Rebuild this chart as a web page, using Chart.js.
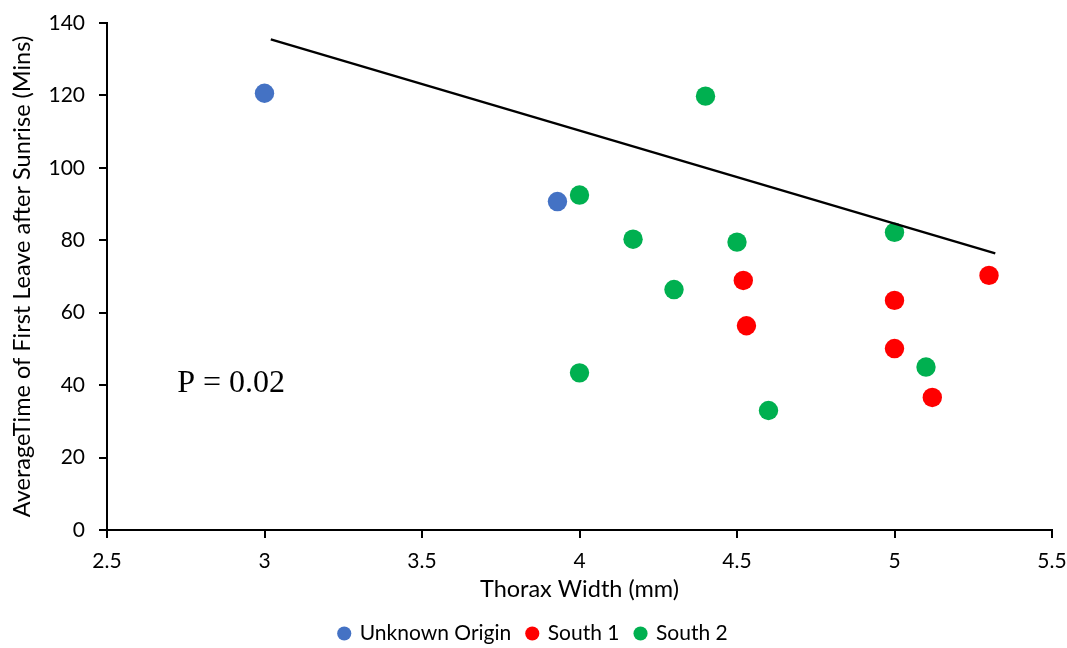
<!DOCTYPE html>
<html>
<head>
<meta charset="utf-8">
<script src="https://cdn.jsdelivr.net/npm/chart.js@4"></script>
<style>
  html, body { margin: 0; padding: 0; background: #fff; }
  .chartDiv { width: 1067px; height: 648px; }
</style>
</head>
<body>
<div class="chartDiv"><canvas id="myChart" width="1067" height="648"></canvas></div>
<script>
// values
let unknownX = [3.0, 3.93]
let unknownY = [120.6, 90.7]

let south1X = [4.52, 4.53, 5.0, 5.0, 5.12, 5.3]
let south1Y = [68.9, 56.4, 63.4, 50.1, 36.6, 70.3]

let south2X = [4.0, 4.4, 4.17, 4.5, 4.3, 5.0, 4.0, 4.6, 5.1]
let south2Y = [92.5, 119.8, 80.3, 79.5, 66.4, 82.2, 43.4, 33.0, 45.0]

let trendX = [3.02, 5.32]
let trendY = [135.5, 76.4]

let seriesNames = ["Unknown Origin", "South 1", "South 2"]
let pText = "P = 0.02"
let pAt = [2.723, 40.4]

const toPoints = (xs, ys) => xs.map((x, i) => ({ x: x, y: ys[i] }))

const font = "Lato, 'Open Sans', sans-serif"

const pLabel = {
    id: "pLabel",
    afterDatasetsDraw(chart) {
        const ctx = chart.ctx
        ctx.save()
        ctx.font = "32px 'Liberation Serif', serif"
        ctx.fillStyle = "#000"
        ctx.textAlign = "left"
        ctx.textBaseline = "middle"
        ctx.fillText(pText, chart.scales.x.getPixelForValue(pAt[0]), chart.scales.y.getPixelForValue(pAt[1]))
        ctx.restore()
    }
}

const dot = (label, color, xs, ys) => ({
    label: label,
    data: toPoints(xs, ys),
    backgroundColor: color,
    borderColor: color,
    borderWidth: 0,
    pointRadius: 9.7,
    pointHoverRadius: 9.7,
    order: 1
})

const data = {
    datasets: [
        dot(seriesNames[0], "#4472C4", unknownX, unknownY),
        dot(seriesNames[1], "#FF0000", south1X, south1Y),
        dot(seriesNames[2], "#00B050", south2X, south2Y),
        {
            label: "trend",
            data: toPoints(trendX, trendY),
            showLine: true,
            borderColor: "#000",
            borderWidth: 2.3,
            pointRadius: 0,
            fill: false,
            order: 0
        }
    ]
}

const axisGrid = {
    drawOnChartArea: false,
    drawTicks: true,
    tickLength: 8,
    color: "#000",
    lineWidth: 2
}

const config = {
    type: "scatter",
    data: data,
    options: {
        responsive: false,
        animation: false,
        layout: { padding: { top: 23, right: 0, left: 0, bottom: -6 } },
        plugins: {
            legend: {
                position: "bottom",
                labels: {
                    filter: item => item.text !== "trend",
                    usePointStyle: true,
                    pointStyle: "circle",
                    boxWidth: 10,
                    boxHeight: 10,
                    padding: 16,
                    color: "#000",
                    font: { family: font, size: 21 }
                }
            },
            tooltip: { enabled: false }
        },
        scales: {
            x: {
                type: "linear",
                min: 2.5,
                max: 5.5,
                ticks: {
                    stepSize: 0.5,
                    color: "#000",
                    padding: 11,
                    font: { family: font, size: 21 },
                    callback: v => String(v)
                },
                grid: axisGrid,
                border: { color: "#000", width: 2 },
                title: {
                    display: true,
                    text: "Thorax Width (mm)",
                    color: "#000",
                    font: { family: font, size: 23.5 },
                    padding: { top: 2, bottom: 3 }
                },
                afterFit: s => { s.height = 77; s.paddingRight = 15 }
            },
            y: {
                type: "linear",
                min: 0,
                max: 140,
                ticks: { stepSize: 20, color: "#000", padding: 14, font: { family: font, size: 21 } },
                grid: axisGrid,
                border: { color: "#000", width: 2 },
                title: {
                    display: true,
                    text: "AverageTime of First Leave after Sunrise (Mins)",
                    color: "#000",
                    font: { family: font, size: 23.5 },
                    padding: { top: 8, bottom: 0 }
                },
                afterFit: s => { s.width = 107; s.paddingTop = 0; s.paddingBottom = 0 }
            }
        }
    },
    plugins: [pLabel]
}

let myChart = new Chart(document.getElementById("myChart"), config)
</script>
</body>
</html>
